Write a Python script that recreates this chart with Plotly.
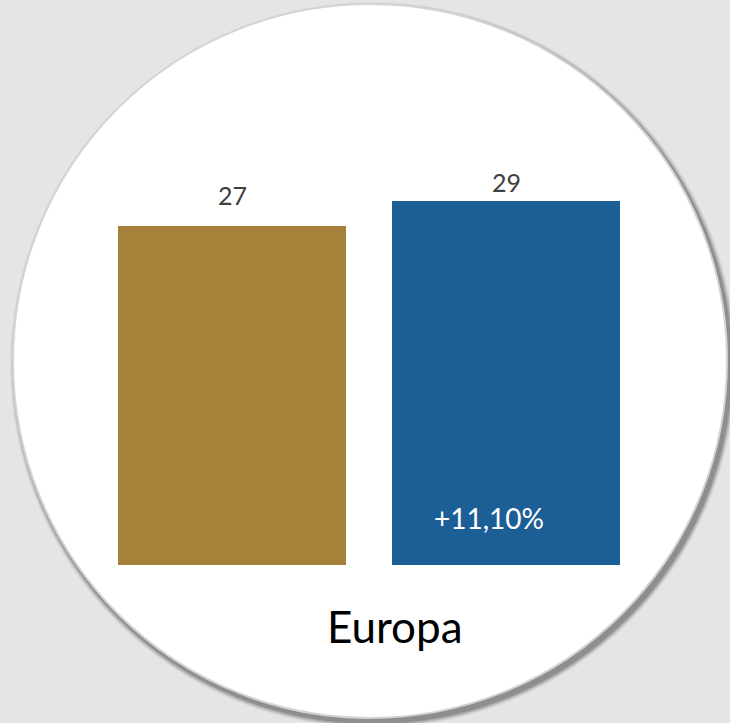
import plotly.graph_objects as go

categories = ["A", "B"]
values = [27, 29]
bar_colors = ["#a5813a", "#1c5f96"]
value_labels = ["27", "29"]
change_label = "+11,10%"
region_label = "Europa"

W, H = 730, 723
L, R, T, B = 95, 87, 126, 158
pw, ph = W - L - R, H - T - B

def px(x):
    return (x - L) / pw

def py(y):
    return (T + ph - y) / ph

fig = go.Figure()
fig.add_trace(go.Bar(
    x=categories, y=values, marker=dict(color=bar_colors, line=dict(width=0)),
    width=0.832, hoverinfo="skip", showlegend=False,
))

shapes = []
cx, cy, r = 370, 361, 357
for k, op in [(6, 0.06), (5, 0.09), (4, 0.12), (3, 0.16), (2, 0.22)]:
    ox, oy = 3, 4
    shapes.append(dict(type="circle", xref="paper", yref="paper", layer="below",
                       x0=px(cx - r - k + ox), x1=px(cx + r + k + ox),
                       y0=py(cy + r + k + oy), y1=py(cy - r - k + oy),
                       fillcolor=f"rgba(60,60,60,{op})", line=dict(width=0)))
shapes.append(dict(type="circle", xref="paper", yref="paper", layer="below",
                   x0=px(cx - r), x1=px(cx + r), y0=py(cy + r), y1=py(cy - r),
                   fillcolor="white", line=dict(color="#d4d4d4", width=2)))

FONT = "Lato, Open Sans, sans-serif"
label_shifts = [14, 2]
annotations = []
for c, v, t, s in zip(categories, values, value_labels, label_shifts):
    annotations.append(dict(x=c, y=v, xref="x", yref="y", text=t, showarrow=False,
                            yanchor="bottom", yshift=s,
                            font=dict(family=FONT, size=25, color="#404040")))
annotations.append(dict(x=categories[1], y=0, xref="x", yref="y", text=change_label,
                        showarrow=False, yanchor="bottom", yshift=28, xshift=-17,
                        font=dict(family=FONT, size=28, color="white")))
annotations.append(dict(xref="paper", yref="paper", x=px(395), y=py(626), text=region_label,
                        showarrow=False, xanchor="center", yanchor="middle",
                        font=dict(family=FONT, size=44, color="black")))

fig.update_layout(
    width=W, height=H, margin=dict(l=L, r=R, t=T, b=B, pad=0),
    paper_bgcolor="#e5e5e5", plot_bgcolor="rgba(0,0,0,0)",
    xaxis=dict(visible=False, type="category", range=[-0.5, 1.5], fixedrange=True),
    yaxis=dict(visible=False, range=[0, 35], fixedrange=True),
    shapes=shapes, annotations=annotations, bargap=0,
)
fig.write_html(
    "out.html",
    config={"displayModeBar": False},
    post_script="document.body.style.margin='0';document.body.style.background='#e5e5e5';",
)
